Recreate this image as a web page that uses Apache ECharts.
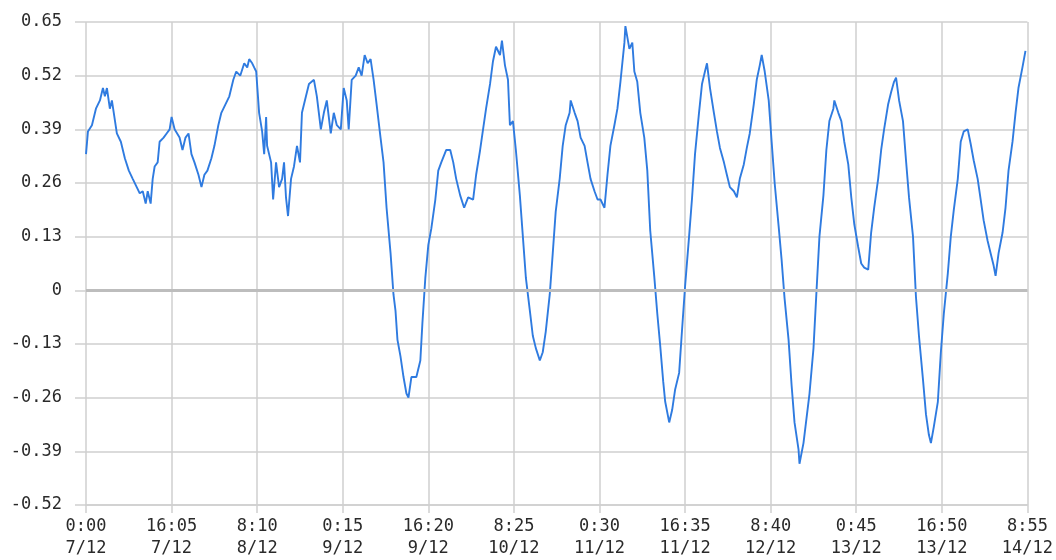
<!DOCTYPE html>
<html>
<head>
<meta charset="utf-8">
<script src="https://cdn.jsdelivr.net/npm/echarts@6/dist/echarts.min.js"></script>
<style>
html,body{margin:0;padding:0;background:#fff;}
#chart{width:1056px;height:560px;}
</style>
</head>
<body>
<div id="chart"></div>
<script>
// minutes since 0:00 7/12
const minutes = [
0,22,67,112,157,191,213,236,269,292,348,393,438,483,527,572,606,640,673,696,729,752,774,808,830,875,909,943,965,999,1021,1055,1088,1122,1156,1189,1223,1268,1302,1335,1369,1414,1448,1492,1526,1571,1616,1661,1694,1739,1784,1818,1840,1874,1896,1919,1952,1986,2009,2031,2042,2087,2110,2143,2177,2211,2233,2255,2278,2312,2345,2379,2413,2435,2480,2514,2570,2603,2648,2682,2715,2760,2794,2828,2873,2906,2940,2962,2996,3041,3075,3108,3142,3176,3209,3243,3277,3321,3355,3389,3434,3467,3490,3512,3546,3580,3613,3636,3669,3725,3770,3793,3826,3860,3894,3939,3972,4006,4062,4107,4141,4174,4219,4264,4309,4365,4399,4444,4477,4511,4556,4589,4623,4668,4690,4724,4758,4780,4814,4847,4892,4926,4960,5005,5038,5072,5117,5150,5184,5229,5263,5296,5341,5375,5409,5453,5465,5510,5543,5577,5622,5655,5689,5734,5768,5801,5846,5880,5913,5958,5992,6026,6071,6082,6127,6160,6183,6216,6250,6295,6329,6362,6407,6441,6475,6508,6531,6576,6609,6643,6688,6721,6755,6800,6834,6867,6912,6946,6979,7002,7036,7080,7114,7148,7193,7226,7260,7305,7339,7372,7417,7451,7484,7529,7563,7597,7619,7653,7698,7731,7765,7810,7843,7877,7922,7956,7989,8034,8045,8090,8124,8158,8203,8236,8270,8315,8348,8382,8427,8438,8483,8517,8550,8595,8629,8663,8707,8741,8775,8820,8853,8887,8932,8966,8999,9044,9078,9111,9134,9168,9212,9246,9280,9325,9358,9392,9437,9471,9504,9527,9560,9605,9639,9673,9717,9751,9785,9830,9863,9897,9942,9975,10009,10054,10088,10121,10166,10200,10234,10256,10290,10335,10368,10402,10447,10481,10514,10559,10593
];
const levels = [
0.33,0.385,0.40,0.44,0.46,0.49,0.47,0.49,0.44,0.46,0.38,0.36,0.32,0.29,0.27,0.25,0.235,0.24,0.21,0.24,0.21,0.27,0.30,0.31,0.36,0.37,0.38,0.39,0.42,0.39,0.39,0.37,0.34,0.37,0.38,0.33,0.31,0.28,0.25,0.28,0.29,0.32,0.35,0.40,0.43,0.45,0.47,0.51,0.53,0.52,0.55,0.54,0.56,0.55,0.54,0.53,0.43,0.385,0.33,0.42,0.35,0.31,0.22,0.31,0.25,0.27,0.31,0.225,0.18,0.27,0.30,0.35,0.31,0.43,0.47,0.50,0.51,0.47,0.39,0.43,0.46,0.38,0.43,0.40,0.39,0.49,0.46,0.39,0.51,0.52,0.54,0.52,0.57,0.55,0.56,0.51,0.45,0.37,0.31,0.20,0.09,-0.01,-0.05,-0.12,-0.16,-0.21,-0.25,-0.26,-0.21,-0.21,-0.17,-0.08,0.03,0.11,0.15,0.22,0.29,0.31,0.34,0.34,0.31,0.27,0.23,0.20,0.225,0.22,0.28,0.34,0.39,0.44,0.50,0.555,0.59,0.57,0.605,0.545,0.51,0.40,0.41,0.34,0.23,0.13,0.03,-0.05,-0.11,-0.14,-0.17,-0.15,-0.10,-0.01,0.09,0.19,0.27,0.35,0.40,0.43,0.46,0.43,0.41,0.37,0.35,0.31,0.27,0.24,0.22,0.22,0.20,0.28,0.35,0.40,0.44,0.505,0.60,0.64,0.585,0.60,0.53,0.505,0.43,0.37,0.29,0.145,0.035,-0.055,-0.135,-0.22,-0.27,-0.32,-0.29,-0.24,-0.20,-0.095,0.01,0.13,0.225,0.33,0.43,0.50,0.53,0.55,0.49,0.43,0.385,0.345,0.31,0.28,0.25,0.24,0.225,0.27,0.305,0.345,0.38,0.45,0.51,0.545,0.57,0.53,0.46,0.36,0.26,0.155,0.075,-0.02,-0.12,-0.23,-0.32,-0.385,-0.42,-0.37,-0.31,-0.25,-0.14,-0.005,0.13,0.23,0.34,0.41,0.44,0.46,0.43,0.41,0.36,0.305,0.225,0.16,0.105,0.065,0.055,0.05,0.14,0.20,0.27,0.34,0.39,0.45,0.48,0.505,0.515,0.46,0.41,0.315,0.225,0.13,-0.015,-0.11,-0.215,-0.30,-0.35,-0.37,-0.33,-0.27,-0.15,-0.055,0.04,0.13,0.195,0.27,0.36,0.385,0.39,0.355,0.315,0.27,0.22,0.17,0.12,0.09,0.06,0.035,0.09,0.14,0.20,0.29,0.36,0.43,0.49,0.54,0.58
];
const startDay = 7;
const month = 12;
const xMax = 10615;       // 8:55 14/12
const xStep = 965;        // 16h05
const yMin = -0.52, yMax = 0.65, yStep = 0.13;

const data = minutes.map((m, i) => [m, levels[i]]);

function fmtX(v) {
  const m = Math.round(v);
  const day = startDay + Math.floor(m / 1440);
  const r = m % 1440;
  const h = Math.floor(r / 60), mm = r % 60;
  return h + ':' + (mm < 10 ? '0' : '') + mm + '\n' + day + '/' + month;
}
function fmtY(v) {
  const r = Math.round(v * 100) / 100;
  return r === 0 ? '0' : r.toFixed(2);
}

const chart = echarts.init(document.getElementById('chart'));
const font = '"DejaVu Sans Mono", "Liberation Mono", monospace';
chart.setOption({
  animation: false,
  backgroundColor: '#fff',
  grid: { left: 86, right: 26, top: 22, bottom: 53, containLabel: false },
  xAxis: {
    type: 'value', min: 0, max: xMax, interval: xStep,
    axisLine: { show: true, onZero: false, lineStyle: { color: '#cfcfcf', width: 1.5 } },
    axisTick: { show: true, length: 8, lineStyle: { color: '#cfcfcf', width: 1.5 } },
    splitLine: { show: true, lineStyle: { color: '#cfcfcf', width: 1.5 } },
    axisLabel: { formatter: fmtX, color: '#2a2a2a', fontFamily: font, fontSize: 17, lineHeight: 22, margin: 11, showMinLabel: true, showMaxLabel: true }
  },
  yAxis: {
    type: 'value', min: yMin, max: yMax, interval: yStep,
    axisLine: { show: false },
    axisTick: { show: true, length: 11, lineStyle: { color: '#cfcfcf', width: 1.5 } },
    splitLine: { show: true, lineStyle: { color: '#cfcfcf', width: 1.5 } },
    axisLabel: { formatter: fmtY, color: '#2a2a2a', fontFamily: font, fontSize: 17, margin: 24 }
  },
  series: [{
    type: 'line',
    data: data,
    showSymbol: false,
    symbol: 'none',
    lineStyle: { color: '#2f7be0', width: 1.9 },
    markLine: {
      silent: true, symbol: 'none', label: { show: false },
      lineStyle: { color: '#bdbdbd', width: 3, type: 'solid' },
      data: [{ yAxis: 0 }]
    },
    z: 3
  }]
});
</script>
</body>
</html>
